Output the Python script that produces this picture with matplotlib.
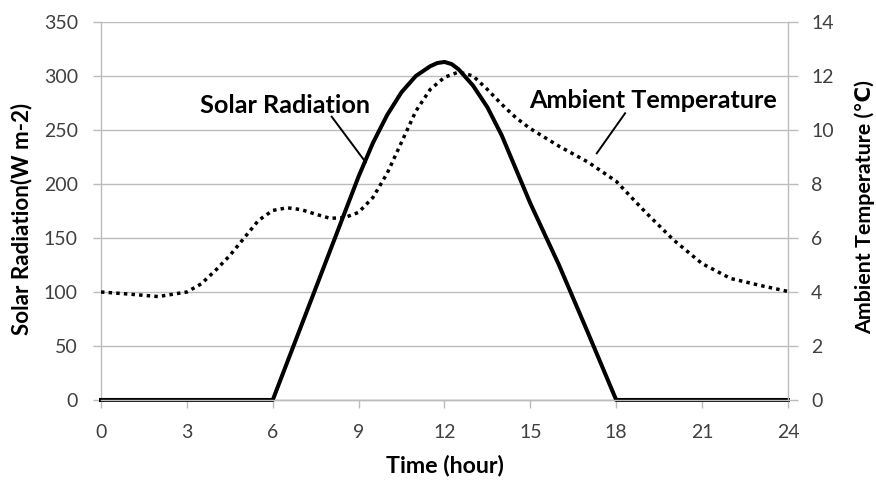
import matplotlib
matplotlib.use("Agg")
import matplotlib.pyplot as plt

plt.rcParams['font.family'] = ['Lato', 'DejaVu Sans']

# -------------------------
# Data
# -------------------------
solar_hour = [0, 1, 2, 3, 4, 5, 6, 7, 8, 9, 9.5, 10, 10.5, 11, 11.5, 11.75,
              12, 12.25, 12.5, 13, 13.5, 14, 15, 16, 17, 18, 19, 20, 21, 22,
              23, 24]
solar_rad = [0, 0, 0, 0, 0, 0, 0, 69, 138, 207, 238, 264, 285, 300, 309, 312,
             313, 311, 306, 291, 271, 245, 182, 125, 63, 0, 0, 0, 0, 0, 0, 0]

temp_hour = [0, 1, 2, 3, 3.5, 4, 4.5, 5, 5.5, 6, 6.5, 7, 7.5, 8, 8.5, 9, 9.5,
             10, 10.5, 11, 11.5, 12, 12.5, 13, 13.5, 14, 14.5, 15, 16, 17, 18,
             19, 20, 21, 22, 23, 24]
temp_amb = [4.0, 3.92, 3.83, 4.0, 4.3, 4.8, 5.35, 6.0, 6.65, 7.02, 7.12, 7.05,
            6.88, 6.73, 6.75, 6.95, 7.5, 8.4, 9.55, 10.7, 11.5, 11.95, 12.15,
            12.0, 11.5, 10.95, 10.45, 10.05, 9.4, 8.82, 8.1, 6.98, 5.93, 5.05,
            4.5, 4.25, 4.02]

x_ticks = [0, 3, 6, 9, 12, 15, 18, 21, 24]
left_ticks = [0, 50, 100, 150, 200, 250, 300, 350]
right_ticks = [0, 2, 4, 6, 8, 10, 12, 14]

# -------------------------
# Plot setup
# -------------------------
grid_col = '#bcbcbc'
tick_col = '#404040'

fig = plt.figure(figsize=(8.76, 4.8), dpi=100)
ax = fig.add_axes([0.1153, 0.1667, 0.7842, 0.7875])
ax2 = ax.twinx()

ax.set_xlim(0, 24)
ax.set_ylim(0, 350)
ax2.set_ylim(0, 14)

ax.set_xticks(x_ticks)
ax.set_yticks(left_ticks)
ax2.set_yticks(right_ticks)

ax.yaxis.grid(True, color=grid_col, lw=1)
ax.set_axisbelow(True)

for a in (ax, ax2):
    a.spines['top'].set_visible(False)
    for s in ('left', 'right', 'bottom'):
        a.spines[s].set_color(grid_col)
        a.spines[s].set_linewidth(1)
    a.tick_params(colors=grid_col, labelcolor=tick_col, labelsize=14,
                  width=1, direction='out')
ax2.spines['left'].set_visible(False)
ax.spines['right'].set_visible(False)

ax.tick_params(axis='y', length=5.8, pad=10.8)
ax2.tick_params(axis='y', length=7.2, pad=9.4)
ax.tick_params(axis='x', length=5.8, pad=11.5)

# Series
ax.plot(solar_hour, solar_rad, color='black', lw=2.9, solid_joinstyle='round',
        zorder=3, clip_on=False)
ax2.plot(temp_hour, temp_amb, color='black', lw=2.5,
         linestyle=(0, (1, 1.2)), zorder=3)

# Axis labels
xl = ax.set_xlabel('Time (hour)', fontsize=13.5, fontweight='bold')
ax.xaxis.set_label_coords(0.5, -0.145)
yl = ax.set_ylabel('Solar Radiation(W m-2)', fontsize=13, fontweight='bold')
ax.yaxis.set_label_coords(-0.1004, 0.479)
yr = ax2.set_ylabel('Ambient Temperature (\u2103)', fontsize=13,
                    fontweight='bold')
ax2.yaxis.set_label_coords(1.0975, 0.511)

# Annotations
t1 = ax.text(6.43, 265.7, 'Solar Radiation', fontsize=17, fontweight='bold',
             ha='center', va='baseline')
ax.plot([8.06, 9.25], [262.3, 220], color='black', lw=1.4)
t2 = ax.text(19.28, 270.4, 'Ambient Temperature', fontsize=17,
             fontweight='bold', ha='center', va='baseline')
ax.plot([18.31, 17.32], [265.5, 228.4], color='black', lw=1.4)


# scale text so its length in pixels matches the reference
def fit_text(txt, target_px, along_x=True):
    fig.canvas.draw()
    bb = txt.get_window_extent()
    size = bb.width if along_x else bb.height
    txt.set_fontsize(txt.get_fontsize() * target_px / size)


fit_text(t1, 170)
fit_text(t2, 250)
fit_text(xl, 118)
fit_text(yl, 232, along_x=False)
fit_text(yr, 253, along_x=False)

fig.savefig('out.png', dpi=100)
